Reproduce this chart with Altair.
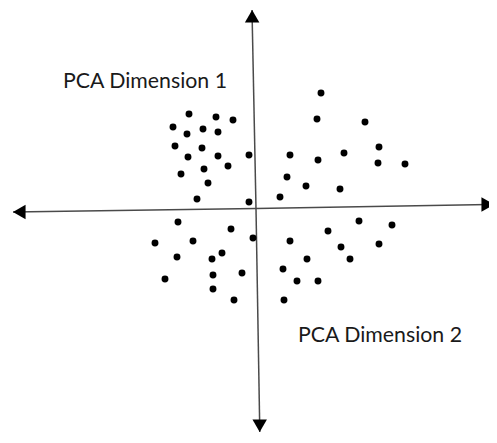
import altair as alt
import pandas as pd
import math

# PCA scores
pc1 = [-1.625, -0.95, -0.525, -2.025, -1.675, -1.275, -0.9, -1.975, -1.3, -1.65,
       -0.9, -0.125, -0.65, -1.825, -1.25, -1.15, -1.425, -0.125,
       1.675, 1.575, 2.775, 3.125, 0.9, 1.6, 2.25, 3.1, 3.775, 0.825, 1.3, 2.15, 0.65,
       -1.9, -0.575, -2.475, -1.525, -0.025, -1.925, -1.05, -0.8, -2.225, -1.025, -0.3,
       -1.025, -0.5,
       2.625, 3.45, 1.85, 0.9, 2.175, 3.125, 1.325, 2.4, 0.725, 1.075, 1.6, 0.75]
pc2 = [2.375, 2.3, 2.225, 2.05, 1.875, 2.0, 1.925, 1.575, 1.525, 1.3,
       1.325, 1.35, 1.075, 0.875, 1.0, 0.65, 0.25, 0.175,
       2.9, 2.25, 2.175, 1.55, 1.35, 1.225, 1.4, 1.15, 1.125, 0.8, 0.575, 0.5, 0.3,
       -0.325, -0.5, -0.85, -0.8, -0.725, -1.2, -1.25, -1.1, -1.75, -1.65, -1.6,
       -2.0, -2.275,
       -0.3, -0.4, -0.55, -0.8, -0.95, -0.875, -1.25, -1.25, -1.5, -1.8, -1.8, -2.275]

# axis arrows: start (tail) and end (tip) in score units
axis_names = ["h_left", "h_right", "v_top", "v_bottom"]
axis_tail_x = [0.05, 0.05, 0.05, 0.05]
axis_tail_y = [0.0125, 0.0125, 0.0125, 0.0125]
axis_tip_x = [-6.025, 6.0, -0.05, 0.145]
axis_tip_y = [-0.075, 0.115, 4.975, -5.575]
arrow_shapes = ["triangle-left", "triangle-right", "triangle-up", "triangle-down"]

labels = ["PCA Dimension 1", "PCA Dimension 2"]
label_x = [-4.775, 1.1]
label_y = [3.025, -3.325]

XDOM = [-6.15, 5.875]
YDOM = [-5.65, 5.025]
UNIT = 40.0  # px per unit in this layout
HEAD = 210   # arrowhead symbol size

pts = pd.DataFrame({"pc1": pc1, "pc2": pc2})

lines = pd.DataFrame({"name": axis_names, "x": axis_tail_x, "y": axis_tail_y,
                      "x2": axis_tip_x, "y2": axis_tip_y})

# arrowhead centres: pulled back from the tip by half the triangle length
h_px = math.sqrt(3) * (math.sqrt(HEAD) / 2) / 2
hx, hy = [], []
for tx, ty, ex, ey in zip(axis_tail_x, axis_tail_y, axis_tip_x, axis_tip_y):
    dx, dy = ex - tx, ey - ty
    L = math.hypot(dx, dy)
    hx.append(ex - dx / L * h_px / UNIT)
    hy.append(ey - dy / L * h_px / UNIT)
heads = pd.DataFrame({"x": hx, "y": hy, "shape": arrow_shapes})

texts = pd.DataFrame({"label": labels, "x": label_x, "y": label_y})

xs = alt.Scale(domain=XDOM, nice=False, zero=False)
ys = alt.Scale(domain=YDOM, nice=False, zero=False)

axis_lines = alt.Chart(lines).mark_rule(color="#4a4a4a", strokeWidth=1.5).encode(
    x=alt.X("x:Q", scale=xs, axis=None),
    y=alt.Y("y:Q", scale=ys, axis=None),
    x2="x2:Q", y2="y2:Q")

arrowheads = alt.Chart(heads).mark_point(filled=True, color="black", size=HEAD, opacity=1).encode(
    x=alt.X("x:Q", scale=xs, axis=None),
    y=alt.Y("y:Q", scale=ys, axis=None),
    shape=alt.Shape("shape:N", scale=None))

dots = alt.Chart(pts).mark_circle(color="black", size=48, opacity=1).encode(
    x=alt.X("pc1:Q", scale=xs, axis=None),
    y=alt.Y("pc2:Q", scale=ys, axis=None))

txt = alt.Chart(texts).mark_text(align="left", baseline="alphabetic", font="Lato",
                                 fontSize=21.3, color="#1a1a1a").encode(
    x=alt.X("x:Q", scale=xs, axis=None),
    y=alt.Y("y:Q", scale=ys, axis=None),
    text="label:N")

chart = (axis_lines + arrowheads + dots + txt).properties(
    width=481, height=427,
    autosize=alt.AutoSizeParams(type="none"),
    padding=0,
).configure_view(stroke=None)

chart.save("out.html", embed_options={"renderer": "svg", "actions": False})
